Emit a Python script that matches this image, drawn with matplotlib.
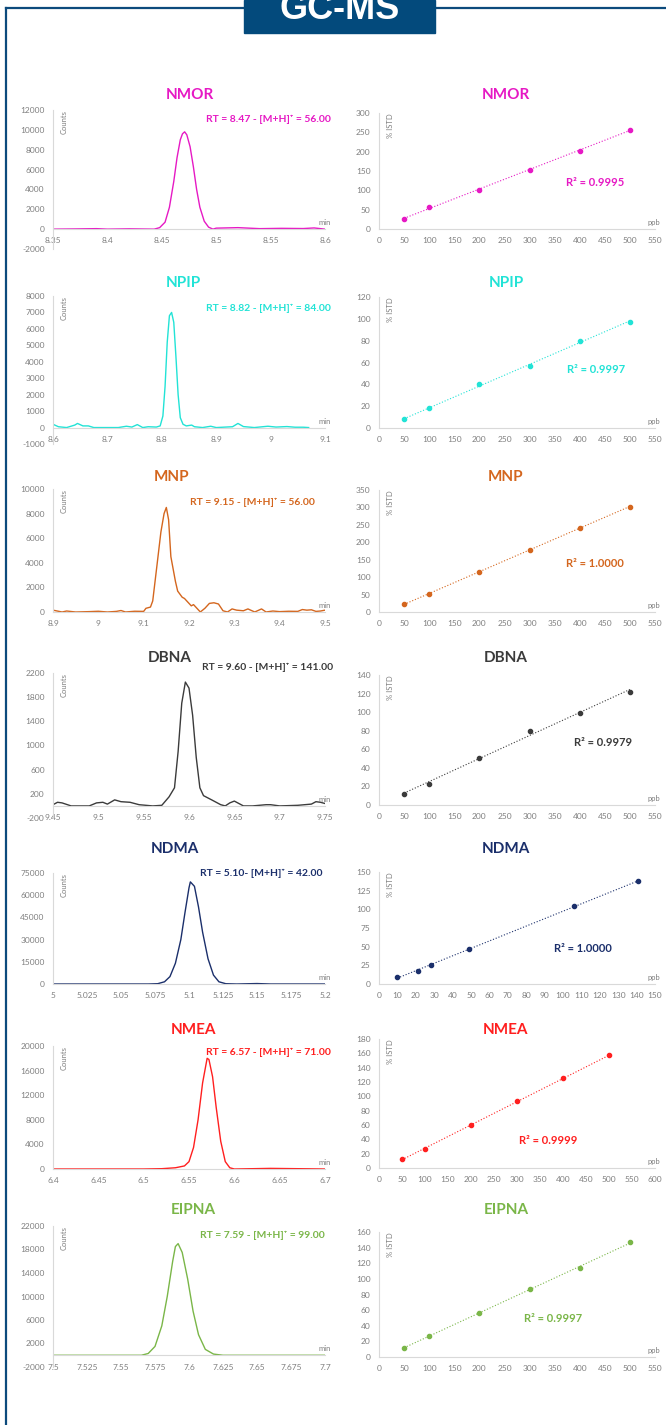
import numpy as np
import matplotlib.pyplot as plt
from matplotlib import font_manager
from matplotlib.lines import Line2D
from matplotlib.patches import Rectangle

# ---- data ----
names = ['NMOR', 'NPIP', 'MNP', 'DBNA', 'NDMA', 'NMEA', 'EIPNA']
colors = ['#e619c4', '#22e3d6', '#d4661e', '#3b3b3b', '#1b2f6b', '#ff1f1f', '#7ab648']
rt_labels = ['RT = 8.47 - [M+H]⁺ = 56.00', 'RT = 8.82 - [M+H]⁺ = 84.00',
             'RT = 9.15 - [M+H]⁺ = 56.00', 'RT = 9.60 - [M+H]⁺ = 141.00',
             'RT = 5.10- [M+H]⁺ = 42.00', 'RT = 6.57 - [M+H]⁺ = 71.00',
             'RT = 7.59 - [M+H]⁺ = 99.00']
r2_labels = ['R² = 0.9995', 'R² = 0.9997', 'R² = 1.0000', 'R² = 0.9979',
             'R² = 1.0000', 'R² = 0.9999', 'R² = 0.9997']

# chromatograms (time in min, counts)
nmor_t = [8.35, 8.37, 8.39, 8.40, 8.42, 8.443, 8.448, 8.453, 8.457, 8.461, 8.464, 8.467, 8.469,
          8.471, 8.473, 8.476, 8.479, 8.482, 8.485, 8.489, 8.493, 8.497, 8.50, 8.52, 8.54,
          8.56, 8.58, 8.59, 8.6]
nmor_c = [0, 20, 50, 0, 30, 0, 150, 700, 2200, 4800, 7200, 9000, 9600,
          9800, 9500, 8300, 6300, 4000, 2200, 800, 200, 0, 100, 150, 50,
          80, 60, 120, 0]

npip_t = [8.6, 8.61, 8.625, 8.64, 8.645, 8.655, 8.665, 8.675, 8.72, 8.735, 8.745, 8.755, 8.765,
          8.775, 8.79, 8.797, 8.802, 8.806, 8.810, 8.814, 8.818, 8.822, 8.826, 8.830, 8.834,
          8.839, 8.845, 8.855, 8.86, 8.875, 8.89, 8.9, 8.93, 8.94, 8.95, 8.97, 8.995, 9.01,
          9.03, 9.045, 9.06, 9.07]
npip_c = [200, 50, 0, 150, 250, 100, 100, 0, 0, 80, 30, 180, 0,
          50, 30, 100, 700, 2500, 5200, 6800, 7000, 6400, 4300, 2000, 600,
          200, 100, 150, 50, 0, 80, 0, 50, 250, 60, 0, 80, 30,
          60, 20, 20, 0]

mnp_t = [8.9, 8.92, 8.93, 8.95, 8.98, 9.0, 9.02, 9.04, 9.05, 9.06, 9.08, 9.1, 9.105, 9.115,
         9.12, 9.13, 9.138, 9.145, 9.15, 9.155, 9.16, 9.17, 9.175, 9.185, 9.19, 9.2, 9.205,
         9.21, 9.215, 9.225, 9.235, 9.245, 9.255, 9.265, 9.275, 9.285, 9.295, 9.305, 9.32,
         9.33, 9.345, 9.36, 9.37, 9.385, 9.4, 9.42, 9.44, 9.45, 9.46, 9.47, 9.48, 9.49, 9.5]
mnp_c = [150, 0, 80, 0, 30, 60, 0, 50, 120, 0, 60, 50, 300, 400,
         900, 4000, 6500, 8000, 8500, 7500, 4500, 2500, 1700, 1200, 1100, 700, 500,
         600, 400, 0, 300, 700, 750, 650, 100, 0, 250, 150, 100,
         250, 0, 250, 0, 80, 30, 60, 50, 200, 150, 180, 50, 80, 150]

dbna_t = [9.45, 9.455, 9.46, 9.47, 9.49, 9.498, 9.505, 9.51, 9.518, 9.525, 9.535, 9.545, 9.56,
          9.57, 9.578, 9.584, 9.588, 9.592, 9.596, 9.6, 9.604, 9.608, 9.612, 9.616, 9.625,
          9.635, 9.64, 9.645, 9.65, 9.655, 9.66, 9.67, 9.685, 9.69, 9.7, 9.72, 9.735, 9.74,
          9.745, 9.75]
dbna_c = [20, 60, 50, 0, 0, 50, 60, 30, 100, 70, 60, 20, 0,
          10, 150, 300, 900, 1700, 2050, 1950, 1500, 800, 300, 170, 100,
          20, 0, 50, 80, 40, 0, 0, 20, 20, 0, 10, 30, 70,
          60, 40]

ndma_t = [5.0, 5.07, 5.077, 5.082, 5.086, 5.09, 5.094, 5.097, 5.1, 5.101, 5.104, 5.107, 5.11,
          5.114, 5.118, 5.122, 5.127, 5.135, 5.15, 5.16, 5.2]
ndma_c = [0, 0, 200, 1500, 5000, 14000, 30000, 48000, 65000, 69000, 66000, 52000, 35000,
          17000, 6000, 1500, 200, 0, 300, 0, 0]

nmea_t = [6.4, 6.5, 6.52, 6.535, 6.545, 6.55, 6.555, 6.56, 6.565, 6.57, 6.572, 6.576, 6.58,
          6.585, 6.59, 6.595, 6.6, 6.64, 6.7]
nmea_c = [0, 0, 50, 200, 500, 1200, 3500, 8000, 14000, 18000, 17800, 15000, 10000,
          4500, 1200, 200, 0, 100, 0]

eipna_t = [7.5, 7.565, 7.57, 7.575, 7.58, 7.584, 7.588, 7.59, 7.592, 7.595, 7.599, 7.603,
           7.607, 7.612, 7.618, 7.625, 7.7]
eipna_c = [0, 0, 300, 1500, 5000, 10000, 16000, 18500, 19000, 17500, 13000, 7500,
           3500, 1000, 200, 0, 0]

# calibration points (ppb, % ISTD)
ppb_std = [50, 100, 200, 300, 400, 500]
ndma_ppb = [10, 21, 28, 49, 106, 141]
nmor_istd = [25, 58, 102, 153, 202, 257]
npip_istd = [8, 18, 40, 57, 80, 97]
mnp_istd = [22, 53, 115, 178, 242, 302]
dbna_istd = [12, 23, 51, 80, 99, 122]
ndma_istd = [9, 18, 25, 47, 104, 138]
nmea_istd = [12, 27, 60, 93, 125, 157]
eipna_istd = [12, 27, 56, 87, 114, 147]

chrom_t = [nmor_t, npip_t, mnp_t, dbna_t, ndma_t, nmea_t, eipna_t]
chrom_c = [nmor_c, npip_c, mnp_c, dbna_c, ndma_c, nmea_c, eipna_c]
cal_x = [ppb_std, ppb_std, ppb_std, ppb_std, ndma_ppb, ppb_std, ppb_std]
cal_y = [nmor_istd, npip_istd, mnp_istd, dbna_istd, ndma_istd, nmea_istd, eipna_istd]

# axis ranges: (start, stop, step)
chrom_xt = [(8.35, 8.6, 0.05), (8.6, 9.1, 0.1), (8.9, 9.5, 0.1), (9.45, 9.75, 0.05),
            (5.0, 5.2, 0.025), (6.4, 6.7, 0.05), (7.5, 7.7, 0.025)]
chrom_yt = [(-2000, 12000, 2000), (-1000, 8000, 1000), (0, 10000, 2000), (-200, 2200, 400),
            (0, 75000, 15000), (0, 20000, 4000), (-2000, 22000, 4000)]
cal_xt = [(0, 550, 50)] * 4 + [(0, 150, 10), (0, 600, 50), (0, 550, 50)]
cal_yt = [(0, 300, 50), (0, 120, 20), (0, 350, 50), (0, 140, 20), (0, 150, 25),
          (0, 180, 20), (0, 160, 20)]

# ---- layout in pixels ----
W, H = 666, 1425
# title_x, title_y, rt_x, rt_y, left top/bottom, right top/bottom, r2 x/y
layout = [
    (190, 95, 331, 119, 110, 249, 113, 229, 595, 182),
    (183, 283, 331, 308, 296, 444, 297, 428, 596, 370),
    (172, 477, 315, 502, 489, 612, 490, 612, 595, 564),
    (170, 658, 333, 667, 673, 818, 675, 805, 603, 742),
    (175, 849, 323, 873, 873, 984, 872, 984, 583, 948),
    (193, 1030, 331, 1052, 1046, 1169, 1039, 1168, 548, 1140),
    (193, 1210, 325, 1235, 1226, 1367, 1232, 1357, 553, 1318),
]

plt.rcParams['font.family'] = ['Lato', 'DejaVu Sans']
avail = {f.name for f in font_manager.fontManager.ttflist}
tick_font = 'Liberation Sans Narrow' if 'Liberation Sans Narrow' in avail else 'Lato'
GRAY = '#7f7f7f'
AXC = '#d9d9d9'


def ticks(rng):
    a, b, s = rng
    n = int(round((b - a) / s))
    return [round(a + k * s, 4) for k in range(n + 1)]


def style(ax, xt, yt):
    for s in ['top', 'right']:
        ax.spines[s].set_visible(False)
    ax.spines['left'].set_color(AXC)
    ax.spines['bottom'].set_color(AXC)
    ax.spines['bottom'].set_position(('data', 0))
    ax.set_xticks(xt)
    ax.set_xticklabels([f'{v:g}' for v in xt], family=tick_font)
    ax.set_yticks(yt)
    ax.set_yticklabels([f'{v:g}' for v in yt], family=tick_font)
    ax.tick_params(axis='both', length=0, labelsize=6, labelcolor=GRAY)
    ax.tick_params(axis='x', pad=6)
    ax.tick_params(axis='y', pad=6)
    ax.set_facecolor('none')


def rect(x0, x1, top, bot):
    return [x0 / W, 1 - bot / H, (x1 - x0) / W, (bot - top) / H]


fig = plt.figure(figsize=(W / 100, H / 100), dpi=100)

for i in range(len(names)):
    tx, ty, rx, ry, lt, lb, rt, rb, r2x, r2y = layout[i]
    col = colors[i]

    # chromatogram
    axl = fig.add_axes(rect(53, 325, lt, lb))
    axl.plot(chrom_t[i], chrom_c[i], color=col, lw=1.0)
    xt, yt = ticks(chrom_xt[i]), ticks(chrom_yt[i])
    axl.set_xlim(xt[0], xt[-1])
    axl.set_ylim(yt[0], yt[-1])
    style(axl, xt, yt)
    axl.text(0.04, 1.0, 'Counts', transform=axl.transAxes, rotation=90, ha='center',
             va='top', fontsize=5.5, color=GRAY, family=tick_font)
    axl.annotate('min', xy=(1, 0), xycoords=('axes fraction', 'data'), xytext=(4, 2),
                 textcoords='offset points', ha='right', va='bottom', fontsize=5.5,
                 color=GRAY, family=tick_font)

    # calibration curve
    axr = fig.add_axes(rect(379, 655, rt, rb))
    px, py = cal_x[i], cal_y[i]
    slope, icpt = np.polyfit(px, py, 1)
    lx = np.array([px[0], px[-1]])
    axr.plot(lx, slope * lx + icpt, ls=':', color=col, lw=0.8)
    axr.plot(px, py, 'o', color=col, ms=3)
    xt, yt = ticks(cal_xt[i]), ticks(cal_yt[i])
    axr.set_xlim(xt[0], xt[-1])
    axr.set_ylim(yt[0], yt[-1])
    style(axr, xt, yt)
    axr.text(0.04, 1.0, '% ISTD', transform=axr.transAxes, rotation=90, ha='center',
             va='top', fontsize=5.5, color=GRAY, family=tick_font)
    axr.annotate('ppb', xy=(1, 0), xycoords=('axes fraction', 'data'), xytext=(4, 2),
                 textcoords='offset points', ha='right', va='bottom', fontsize=5.5,
                 color=GRAY, family=tick_font)

    # texts
    fig.text(tx / W, 1 - ty / H, names[i], ha='center', va='center', fontsize=11,
             fontweight='bold', color=col)
    fig.text(506 / W, 1 - ty / H, names[i], ha='center', va='center', fontsize=11,
             fontweight='bold', color=col)
    fig.text(rx / W, 1 - ry / H, rt_labels[i], ha='right', va='center', fontsize=7.5,
             fontweight='bold', color=col)
    fig.text(r2x / W, 1 - r2y / H, r2_labels[i], ha='center', va='center', fontsize=8,
             fontweight='bold', color=col)

# frame and header
BLUE = '#0c4a7c'
fig.add_artist(Line2D([6 / W, 6 / W], [0, 1 - 8 / H], color=BLUE, lw=1.6))
fig.add_artist(Line2D([6 / W, 1], [1 - 8 / H, 1 - 8 / H], color=BLUE, lw=1.6))
fig.add_artist(Rectangle((244 / W, 1 - 33 / H), 191 / W, 33 / H, color='#034a7c',
                         transform=fig.transFigure, zorder=5))
fig.text(340 / W, 1 - 19 / H, 'GC-MS', ha='center', va='baseline', fontsize=26,
         fontweight='bold', color='white', family='Liberation Sans', zorder=6)

fig.savefig('out.png', dpi=100)
